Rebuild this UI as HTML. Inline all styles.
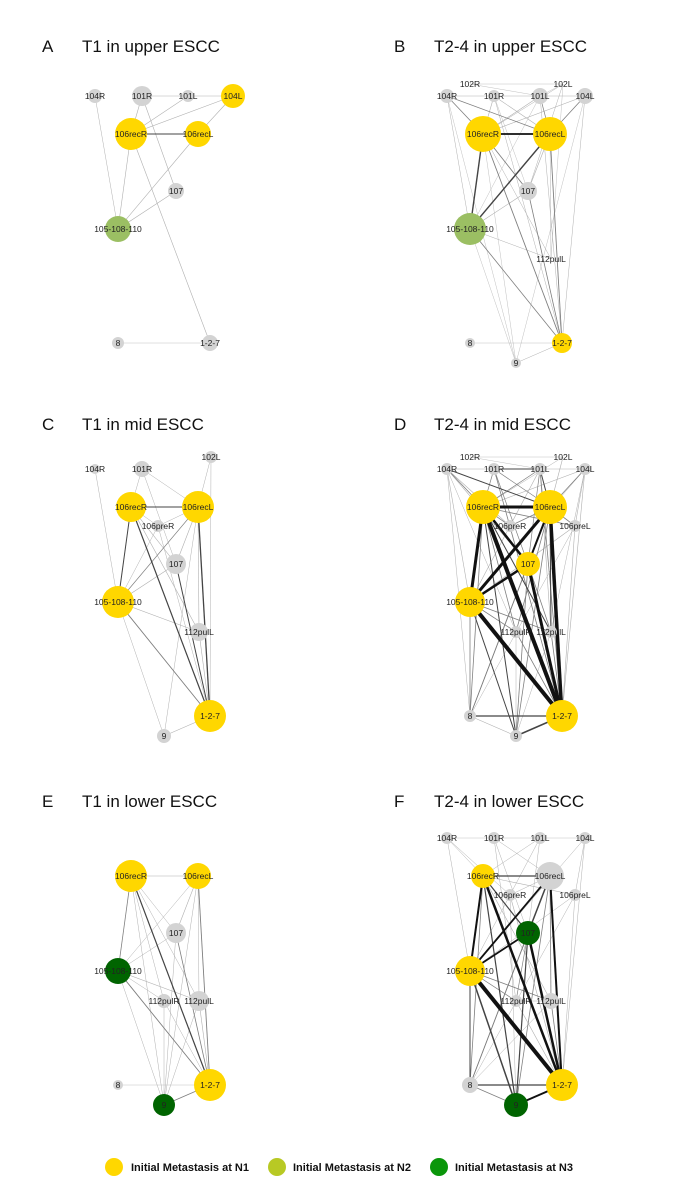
<!DOCTYPE html>
<html><head><meta charset="utf-8">
<style>
html,body{margin:0;padding:0;background:#fff;}
body{width:688px;height:1200px;overflow:hidden;font-family:"Liberation Sans",sans-serif;}
svg{display:block;}
</style></head>
<body>
<svg id="chart" width="688" height="1200" viewBox="0 0 688 1200" xmlns="http://www.w3.org/2000/svg">
<g id="legend" font-family="Liberation Sans, sans-serif" font-size="11" font-weight="bold" fill="#111">
  <g><circle cx="114" cy="1167" r="9" fill="#FFD700"/><text x="131" y="1171">Initial Metastasis at N1</text></g>
  <g><circle cx="277" cy="1167" r="9" fill="#B8C924"/><text x="293" y="1171">Initial Metastasis at N2</text></g>
  <g><circle cx="439" cy="1167" r="9" fill="#0A960A"/><text x="455" y="1171">Initial Metastasis at N3</text></g>
</g>
</svg>
<script>
// Node base layout (right column, top row coordinates)
const nodeIds = ['a','b','c','d','e','f','R','L','pR','pL','s','M','uR','uL','n8','n9','T'];
const nodeLabels = ['104R','102R','101R','101L','102L','104L','106recR','106recL','106preR','106preL','107','105-108-110','112pulR','112pulL','8','9','1-2-7'];
const nodeX = [447,470,494,540,563,585,483,550,510,575,528,470,516,551,470,516,562];
const nodeY = [96,84,96,96,84,96,134,134,153,153,191,229,259,259,343,363,343];

const panelLetters = ['A','B','C','D','E','F'];
const panelTitles = ['T1 in upper ESCC','T2-4 in upper ESCC','T1 in mid ESCC','T2-4 in mid ESCC','T1 in lower ESCC','T2-4 in lower ESCC'];

// node radius and status per panel: [id, radius, status] status: 0 none,1 N1,2 N2,3 N3
const nodesA = [['a',7,0],['c',10,0],['d',6,0],['f',12,1],['R',16,1],['L',13,1],['s',8,0],['M',13,2],['n8',6,0],['T',8,0]];
const nodesB = [['b',0,0],['e',0,0],['a',7,0],['c',6,0],['d',8,0],['f',8,0],['R',18,1],['L',17,1],['s',9,0],['M',16,2],['uL',0,0],['n8',5,0],['n9',5,0],['T',10,1]];
const nodesC = [['a',5,0],['c',8,0],['e',6,0],['R',15,1],['L',16,1],['pR',6,0],['s',10,0],['M',16,1],['uL',9,0],['T',16,1],['n9',7,0]];
const nodesD = [['b',0,0],['e',0,0],['a',6,0],['c',6,0],['d',6,0],['f',6,0],['R',17,1],['L',17,1],['pR',6,0],['pL',6,0],['s',12,1],['M',15,1],['uR',6,0],['uL',6,0],['n8',6,0],['n9',6,0],['T',16,1]];
const nodesE = [['R',16,1],['L',13,1],['s',10,0],['M',13,3],['uR',7,0],['uL',10,0],['n8',5,0],['T',16,1],['n9',11,3]];
const nodesF = [['a',6,0],['c',6,0],['d',6,0],['f',6,0],['R',12,1],['L',14,0],['pR',6,0],['pL',6,0],['s',12,3],['M',15,1],['uR',6,0],['uL',8,0],['n8',8,0],['T',16,1],['n9',12,3]];

// edges: [from, to, weight]
const edgesA = [['a','M',.5],['c','d',.5],['d','f',.5],['c','R',.6],['d','R',.6],['f','R',.6],['f','L',.6],['R','L',1],['c','s',.6],['R','M',.6],['L','M',.6],['s','M',.6],['R','T',.6],['n8','T',.4]];
const edgesB = [['b','e',.4],['a','c',.5],['c','d',.5],['d','f',.5],['b','d',.4],['e','d',.4],['a','R',.8],['a','L',.8],['c','R',.6],['c','L',.6],['d','R',.6],['d','L',.7],['f','R',.6],['f','L',.8],['e','R',.5],['e','s',.5],['R','L',1.8],['R','M',1.4],['L','M',1.4],['R','s',.9],['L','s',.6],['s','M',.6],['a','M',.5],['c','s',.4],['d','M',.4],['R','T',.9],['L','T',.9],['s','T',.8],['M','T',.8],['M','uL',.5],['R','uL',.5],['L','uL',.5],['f','T',.5],['a','n9',.4],['c','T',.5],['d','T',.5],['n8','T',.4],['n9','T',.5],['M','n9',.4],['R','n9',.4],['f','n9',.4],['e','uL',.4]];
const edgesC = [['a','M',.5],['c','R',.5],['c','L',.5],['c','s',.5],['e','L',.5],['e','T',.5],['R','L',1],['R','M',1],['L','M',.7],['R','s',.6],['R','uL',.6],['R','T',1.2],['L','s',.6],['L','uL',.6],['L','T',1.3],['L','pR',.5],['pR','M',.5],['pR','T',.5],['s','M',.6],['s','T',1],['M','uL',.6],['M','T',.9],['M','n9',.5],['L','n9',.5],['n9','T',.6],['uL','T',.6],['R','pR',.5]];
const edgesD = [['b','e',.4],['a','c',.5],['c','d',1],['d','f',.5],['b','d',.4],['a','R',.8],['a','L',1],['a','pR',.6],['a','M',.6],['a','s',.6],['a','n8',.5],['a','uR',.5],['c','R',.7],['c','L',.7],['c','s',.7],['c','T',.7],['c','pR',.5],['d','R',.7],['d','L',1],['d','M',.6],['d','s',.7],['d','T',.8],['d','uL',.6],['e','R',.5],['e','L',.6],['f','R',.6],['f','L',.8],['f','M',.5],['f','pL',.6],['f','T',.6],['f','uL',.5],['R','L',3],['R','M',3],['R','T',4],['R','s',2.5],['R','pR',.8],['R','pL',.8],['R','uR',.8],['R','uL',1],['R','n9',1],['R','n8',.8],['L','M',3],['L','T',3.5],['L','s',2],['L','pR',.8],['L','pL',.8],['L','uL',1],['L','uR',.8],['L','n9',.8],['L','n8',.8],['s','M',2.5],['s','T',3],['s','n8',.8],['s','n9',.8],['s','uL',.8],['M','T',4],['M','n8',.8],['M','n9',1],['M','uR',.8],['M','uL',.8],['pL','M',.6],['pL','T',.6],['pR','T',.6],['uR','T',.8],['uL','T',.8],['n8','T',1.2],['n9','T',1.5],['n8','n9',.6],['pL','n8',.5],['uR','n9',.5],['uL','n9',.5]];
const edgesE = [['R','L',.6],['R','M',.8],['R','s',.5],['R','uR',.5],['R','uL',.5],['R','n9',.5],['R','T',1.2],['L','M',.5],['L','s',.6],['L','uL',.5],['L','T',.9],['L','n9',.5],['s','M',.5],['s','T',.8],['s','n9',.5],['M','uR',.5],['M','uL',.6],['M','T',.9],['M','n9',.5],['uR','n9',.5],['uR','T',.5],['uL','n9',.5],['uL','T',.6],['n8','T',.4],['n9','T',.9]];
const edgesF = [['a','c',.4],['c','d',.4],['d','f',.4],['a','M',.5],['a','R',.5],['a','pR',.5],['c','L',.5],['c','s',.5],['c','uR',.5],['d','R',.5],['d','M',.5],['d','s',.5],['f','M',.5],['f','pL',.5],['f','T',.5],['R','L',1.3],['R','M',2],['R','T',2.5],['R','s',1.2],['R','n9',1.2],['R','pL',.6],['R','uL',.6],['R','n8',.8],['L','M',1.8],['L','T',2],['L','s',1.5],['L','n8',.8],['L','n9',.8],['L','pR',.5],['L','uL',.8],['s','M',1.8],['s','T',2.5],['s','n8',.8],['s','n9',1.2],['s','uR',.7],['M','T',4],['M','n8',1],['M','n9',1.5],['M','uL',.8],['M','uR',.7],['pL','M',.5],['pL','n8',.5],['pL','T',.5],['uR','uL',.5],['uR','T',.6],['uL','T',.8],['uL','n8',.5],['n8','T',1.3],['n8','n9',.8],['n9','T',2],['pR','T',.6],['pR','n9',.5]];

const panelNodes = [nodesA,nodesB,nodesC,nodesD,nodesE,nodesF];
const panelEdges = [edgesA,edgesB,edgesC,edgesD,edgesE,edgesF];

const NS = 'http://www.w3.org/2000/svg';
const svg = document.getElementById('chart');
const colX = [-352, 0];
const rowNodeY = [0, 373, 742];
const rowTitleY = [0, 378, 755];
const statusFill = ['#D3D3D3','#FFD700','#9BBF63','#006400'];
function edgeColor(w){ return w>=1.8 ? '#111' : (w>=1 ? '#444' : (w>=0.7 ? '#7f7f7f' : '#B0B0B0')); }
function px(i,col){ return nodeX[i]+colX[col]; }
function py(i,row){ return nodeY[i]+rowNodeY[row]; }

for (let p=0;p<6;p++){
  const col=p%2, row=Math.floor(p/2);
  const g=document.createElementNS(NS,'g');
  
  
  svg.appendChild(g);
  const tx = col===0 ? 42 : 394;
  const ty = 52 + rowTitleY[row];
  const lt=document.createElementNS(NS,'text');
  lt.setAttribute('x',tx); lt.setAttribute('y',ty);
  lt.setAttribute('font-size','17'); lt.setAttribute('fill','#111');
  lt.textContent=panelLetters[p];
  
  
  g.appendChild(lt);
  const tt=document.createElementNS(NS,'text');
  tt.setAttribute('x',tx+40); tt.setAttribute('y',ty);
  tt.setAttribute('font-size','17'); tt.setAttribute('fill','#111');
  tt.textContent=panelTitles[p];
  
  
  g.appendChild(tt);
  const eg=document.createElementNS(NS,'g');
  
  
  g.appendChild(eg);
  const sorted = panelEdges[p].slice().sort((a,b)=>a[2]-b[2]);
  sorted.forEach(e=>{
    const i=nodeIds.indexOf(e[0]), j=nodeIds.indexOf(e[1]);
    const ln=document.createElementNS(NS,'line');
    ln.setAttribute('x1',px(i,col)); ln.setAttribute('y1',py(i,row));
    ln.setAttribute('x2',px(j,col)); ln.setAttribute('y2',py(j,row));
    ln.setAttribute('stroke',edgeColor(e[2]));
    ln.setAttribute('stroke-width',e[2]);
    
    
    eg.appendChild(ln);
  });
  panelNodes[p].forEach(n=>{
    const i=nodeIds.indexOf(n[0]);
    const ng=document.createElementNS(NS,'g');
    
    
    g.appendChild(ng);
    if(n[1]>0){
      const c=document.createElementNS(NS,'circle');
      c.setAttribute('cx',px(i,col)); c.setAttribute('cy',py(i,row));
      c.setAttribute('r',n[1]); c.setAttribute('fill',statusFill[n[2]]);
      ng.appendChild(c);
    }
    const t=document.createElementNS(NS,'text');
    t.setAttribute('x',px(i,col)); t.setAttribute('y',py(i,row)+3);
    t.setAttribute('text-anchor','middle'); t.setAttribute('font-size','8.5');
    t.setAttribute('fill','#222');
    t.textContent=nodeLabels[i];
    ng.appendChild(t);
  });
}
svg.appendChild(document.getElementById('legend'));
</script>
</body></html>
